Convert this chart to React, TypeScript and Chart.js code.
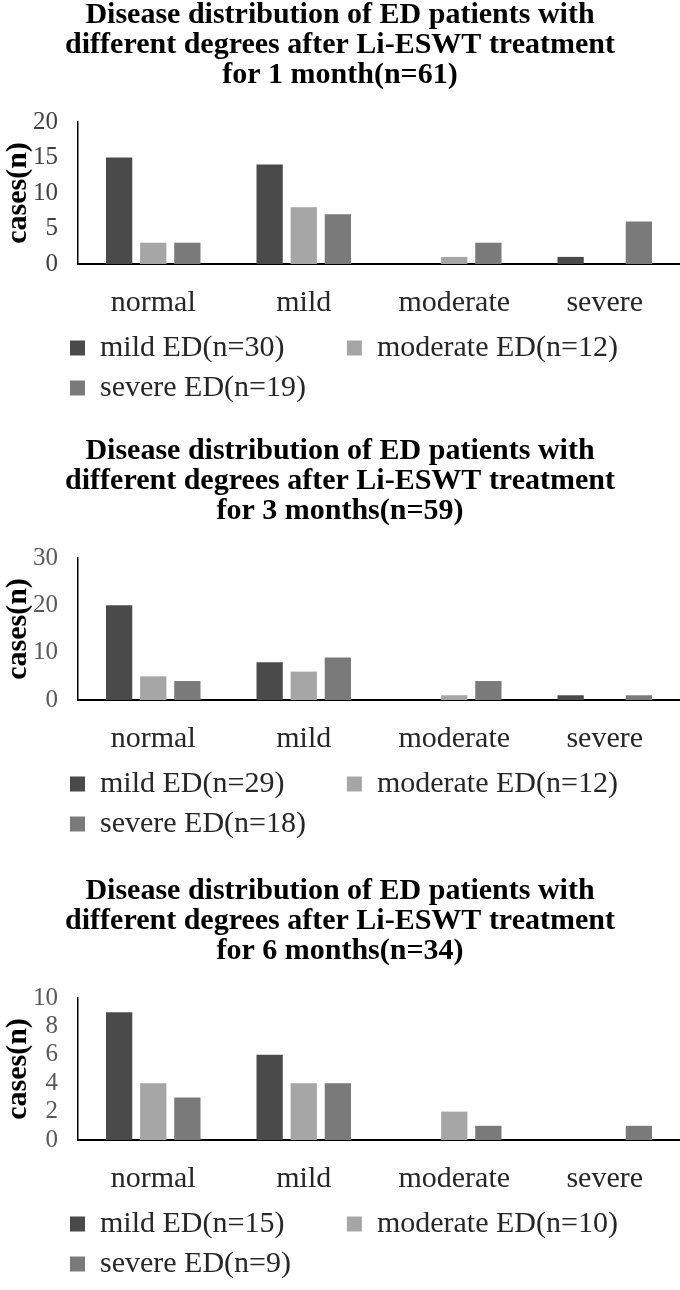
import React, { useEffect, useRef } from "react";
import { Chart, registerables } from "chart.js";

Chart.register(...registerables);

const CATEGORIES = ["normal", "mild", "moderate", "severe"];

const M1_TITLE = [
  "Disease distribution of ED patients with",
  "different degrees after Li-ESWT treatment",
  "for 1 month(n=61)",
];
const M1_LABELS = ["mild ED(n=30)", "moderate ED(n=12)", "severe ED(n=19)"];
const M1_MILD = [15, 14, 0, 1];
const M1_MODERATE = [3, 8, 1, 0];
const M1_SEVERE = [3, 7, 3, 6];
const M1_YMAX = 20;
const M1_YSTEP = 5;

const M3_TITLE = [
  "Disease distribution of ED patients with",
  "different degrees after Li-ESWT treatment",
  "for 3 months(n=59)",
];
const M3_LABELS = ["mild ED(n=29)", "moderate ED(n=12)", "severe ED(n=18)"];
const M3_MILD = [20, 8, 0, 1];
const M3_MODERATE = [5, 6, 1, 0];
const M3_SEVERE = [4, 9, 4, 1];
const M3_YMAX = 30;
const M3_YSTEP = 10;

const M6_TITLE = [
  "Disease distribution of ED patients with",
  "different degrees after Li-ESWT treatment",
  "for 6 months(n=34)",
];
const M6_LABELS = ["mild ED(n=15)", "moderate ED(n=10)", "severe ED(n=9)"];
const M6_MILD = [9, 6, 0, 0];
const M6_MODERATE = [4, 4, 2, 0];
const M6_SEVERE = [3, 4, 1, 1];
const M6_YMAX = 10;
const M6_YSTEP = 2;

const Y_TITLE = "cases(n)";
const COLORS = ["#4a4a4a", "#a6a6a6", "#7a7a7a"];
const FONT = "'Liberation Serif', 'Times New Roman', serif";

const legendShift = {
  id: "legendShift",
  afterLayout(chart: any) {
    const lg = chart.legend;
    if (lg) {
      lg.left = 60;
      lg.top -= 19;
      lg.bottom -= 19;
    }
  },
};

function BarPanel(props: {
  title: string[];
  labels: string[];
  series: number[][];
  ymax: number;
  ystep: number;
  tickColor: string;
}) {
  const ref = useRef<HTMLCanvasElement | null>(null);
  useEffect(() => {
    if (!ref.current) return;
    const chart = new Chart(ref.current, {
      type: "bar",
      data: {
        labels: CATEGORIES,
        datasets: props.series.map((s, i) => ({
          label: props.labels[i],
          data: s,
          backgroundColor: COLORS[i],
          borderWidth: 0,
          categoryPercentage: 0.68,
          barPercentage: 0.77,
        })),
      },
      options: {
        animation: false,
        responsive: false,
        maintainAspectRatio: false,
        layout: { padding: { left: 0, right: 0, top: 0, bottom: 4 } },
        plugins: {
          tooltip: { enabled: false },
          title: {
            display: true,
            text: props.title,
            color: "#000",
            font: { family: FONT, size: 30, weight: "bold", lineHeight: "30px" },
            padding: { top: 0, bottom: 32 },
          },
          legend: {
            display: true,
            position: "bottom",
            align: "start",
            labels: {
              color: "#262626",
              font: { family: FONT, size: 30 },
              boxWidth: 15,
              boxHeight: 15,
              padding: 10,
              generateLabels: (c: any) => {
                const items = Chart.defaults.plugins.legend.labels.generateLabels(c);
                return items.map((it: any, i: number) => ({
                  ...it,
                  text: i === 0 ? it.text + "       " : it.text,
                  lineWidth: 0,
                }));
              },
            },
          },
        },
        scales: {
          x: {
            grid: { display: false, drawTicks: false },
            border: { display: true, color: "#000", width: 2 },
            ticks: {
              color: "#262626",
              font: { family: FONT, size: 30 },
              padding: 21,
              maxRotation: 0,
              autoSkip: false,
            },
          },
          y: {
            min: 0,
            max: props.ymax,
            grid: { display: false, drawTicks: false },
            border: { display: true, color: "#000", width: 1.5 },
            ticks: {
              stepSize: props.ystep,
              color: props.tickColor,
              font: { family: FONT, size: 25 },
              padding: 20,
              autoSkip: false,
            },
            title: {
              display: true,
              text: Y_TITLE,
              color: "#000",
              font: { family: FONT, size: 30, weight: "bold" },
              padding: { top: 0, bottom: -23 },
            },
          },
        },
      },
      plugins: [legendShift],
    });
    return () => chart.destroy();
  }, []);
  return <canvas ref={ref} width={680} height={436} style={{ display: "block" }} />;
}

export default function App() {
  const tops = [0, 436, 876];
  return (
    <div
      style={{
        position: "absolute",
        left: 0,
        top: 0,
        width: 680,
        height: 1290,
        overflow: "hidden",
        background: "#fff",
      }}
    >
      <div style={{ position: "absolute", left: 0, top: tops[0] }}>
        <BarPanel
          title={M1_TITLE}
          labels={M1_LABELS}
          series={[M1_MILD, M1_MODERATE, M1_SEVERE]}
          ymax={M1_YMAX}
          ystep={M1_YSTEP}
          tickColor="#404040"
        />
      </div>
      <div style={{ position: "absolute", left: 0, top: tops[1] }}>
        <BarPanel
          title={M3_TITLE}
          labels={M3_LABELS}
          series={[M3_MILD, M3_MODERATE, M3_SEVERE]}
          ymax={M3_YMAX}
          ystep={M3_YSTEP}
          tickColor="#595959"
        />
      </div>
      <div style={{ position: "absolute", left: 0, top: tops[2] }}>
        <BarPanel
          title={M6_TITLE}
          labels={M6_LABELS}
          series={[M6_MILD, M6_MODERATE, M6_SEVERE]}
          ymax={M6_YMAX}
          ystep={M6_YSTEP}
          tickColor="#595959"
        />
      </div>
    </div>
  );
}
